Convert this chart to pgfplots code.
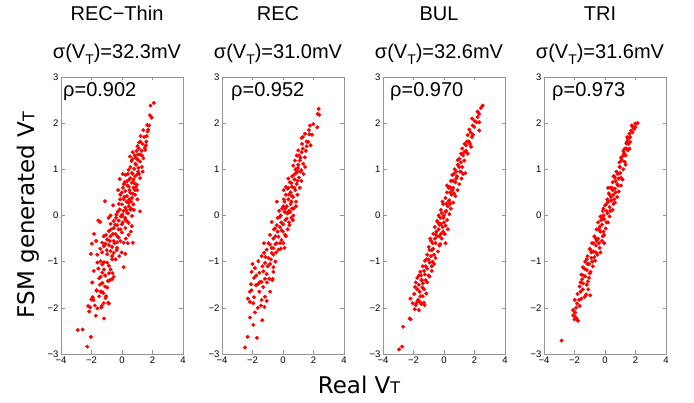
\documentclass[border=0pt]{standalone}
\usepackage{fontspec}
\setmainfont{Liberation Sans}
\newfontfamily\dejavu{DejaVu Sans}
\usepackage{pgfplots}
\pgfplotsset{compat=1.18}
\definecolor{framegray}{RGB}{150,150,150}
\pgfplotsset{
  panel/.style={
    scale only axis, width=122pt, height=277pt, anchor=south west,
    xmin=-4, xmax=4, ymin=-3, ymax=3,
    xtick={-4,-2,0,2,4}, xticklabels={−4,−2,0,2,4},
    ytick={-3,-2,-1,0,1,2,3}, yticklabels={−3,−2,−1,0,1,2,3},
    tick align=inside, major tick length=3.5pt,
    axis line style={framegray, line width=0.6pt},
    every tick/.style={framegray, line width=0.6pt},
    tick label style={font=\fontsize{9.5}{9.5}\selectfont, text=black},
    xticklabel style={yshift=1pt},
    yticklabel style={xshift=1pt},
    clip=false,
  },
  pts/.style={only marks, mark=*, mark size=1.8pt, color=red, mark options={fill=red, draw=red}},
}
\newcommand{\bigf}{\fontsize{20}{20}\selectfont}
\newcommand{\sub}{\raisebox{-0.3em}{\fontsize{14}{14}\selectfont T}}
\begin{document}
\begin{tikzpicture}
\useasboundingbox (0,0) rectangle (694pt,403pt);
% ---------------- REC-Thin
\begin{axis}[panel, at={(61pt,49pt)}]
\addplot[pts] coordinates {
(2.09,2.44)(1.87,2.38)(1.83,2.17)(1.94,2.12)(1.66,1.96)(1.78,1.95)(1.72,1.86)(1.68,1.82)
(1.12,1.58)(1.35,1.55)(1.57,1.52)(1.5,1.47)(0.71,1.37)(1.29,1.40)(1.18,1.32)(1.4,1.24)(1.03,1.21)(1.18,1.17)(0.92,1.10)(0.43,0.99)(0.8,1.01)(1.08,1.03)(0.65,0.92)(0.97,0.88)(0.86,0.85)(0.24,0.88)(0.54,0.81)(0.75,0.78)(1.18,0.81)(-0.15,0.79)(0.32,0.74)(0.65,0.71)(0.97,0.67)(0.43,0.63)(0.75,0.6)(0.06,0.6)(0.22,0.53)(0.54,0.49)(0.86,0.45)(-0.11,0.45)(0.32,0.42)(0.65,0.38)(0.11,0.35)(1.01,0.35)(-1.12,0.31)(0.43,0.27)(0.75,0.24)(0,0.24)(0.22,0.17)(0.54,0.13)(-0.15,0.13)(1.18,0.09)(0.32,0.06)(-0.37,0.02)(0,-0.01)(0.65,-0.01)(-0.75,0)(0.22,-0.09)(-0.22,-0.11)(-0.54,-0.12)(-1.55,-0.11)(-1.44,-0.14)(0.43,-0.16)(0,-0.19)(-0.32,-0.21)(-0.75,-0.18)(0.65,-0.23)(0.22,-0.27)(-0.54,-0.27)(-0.22,-0.3)(-0.86,-0.34)(0,-0.37)(-0.43,-0.4)(0.43,-0.42)(-1.83,-0.4)(-0.75,-0.45)(-0.22,-0.48)(-0.97,-0.52)(-0.54,-0.55)(-1.7,-0.55)(-1.98,-0.61)(-1.29,-0.59)(-1.08,-0.61)(0.11,-0.59)(0.71,-0.59)(-0.86,-0.64)(-0.65,-0.68)(-1.18,-0.66)(-0.32,-0.7)(-2.04,-0.83)(-0.75,-0.77)(-0.54,-0.81)(0.22,-0.83)(-0.97,-0.84)(-0.65,-0.88)(-1.61,-1.02)(-1.4,-0.99)(-1.18,-1.01)(-1.29,-1.06)(-0.97,-1.02)(-0.86,-1.09)(-0.75,-1.17)(0.11,-1.12)(-1.18,-1.17)(-1.29,-1.24)(-1.4,-1.33)(-1.5,-1.36)(-0.54,-1.33)(-0.65,-1.38)(-1.29,-1.47)(-0.97,-1.56)(-1.66,-1.63)(-1.4,-1.65)(-1.23,-1.68)(-1.08,-1.79)(-1.94,-1.79)(-1.87,-1.83)(-0.86,-1.91)(-2.22,-1.96)(-2.09,-1.99)(-2.15,-2.08)(-1.61,-2.01)(-1.35,-1.99)(-1.72,-2.17)(-1.18,-2.23)(-2.9,-2.48)(-2.58,-2.47)(-2.04,-2.63)(-2.28,-2.84)
(-1.33,-1.96)(-0.9,-1.89)(-2.0,-1.82)(-1.92,-1.77)(-1.66,-1.62)(-1.05,-1.75)(-1.33,-1.65)(-1.11,-1.54)(-1.29,-1.46)(-0.78,-1.40)
(0.1,0.1)(0.3,0.3)(0.5,0.55)(0.7,0.9)(0.9,1.25)(1.1,1.45)(1.3,1.3)(0.8,0.7)(0.6,0.3)(0.4,0.05)(0.2,-0.05)(-0.1,-0.3)(-0.3,-0.45)(-0.5,-0.6)(-0.1,-0.55)(0.05,-0.15)(-0.4,-0.05)(0.15,0.4)(0.35,0.65)(0.55,1.05)(0.95,1.4)(1.2,1.6)(1.45,1.7)(1.6,1.6)(1.05,0.95)(0.45,0.2)(-0.6,-0.4)(-0.8,-0.55)(-0.35,-0.75)(-0.2,0.25)(0.0,0.5)(0.6,0.15)(0.85,0.55)(1.3,1.05)(0.25,-0.5)(-0.65,-0.95)(-0.45,-0.2)(-1.0,-0.75)(-1.3,-0.8)(-1.1,-1.3)(-0.85,-1.25)(-1.55,-1.15)(-1.45,-1.5)
(0.12,0.68)(0.38,0.9)(0.62,1.18)(0.83,1.3)(1.02,1.5)(1.22,1.72)(1.4,1.85)(0.48,0.35)(0.28,0.12)(-0.08,-0.02)(-0.28,0.08)(0.18,0.72)(0.72,0.47)(0.92,0.62)(1.12,0.9)(0.58,-0.35)(0.38,-0.6)(-0.02,-0.8)(-0.42,-0.95)(-0.62,-1.25)(-0.92,-1.42)(-1.2,-1.9)(-1.5,-1.75)(-1.78,-1.95)(-0.18,-0.88)(0.02,0.02)(0.48,0.78)(0.88,1.12)(1.05,1.32)(-0.58,0.22)(-0.88,-0.05)(0.32,-0.12)(-0.12,0.35)(0.68,1.22)(1.52,1.42)(1.62,1.72)(-0.32,-0.58)(-0.72,-0.3)(-1.05,-0.42)(-1.42,-0.72)(-1.62,-0.85)(-1.85,-1.2)(-1.95,-1.45)(-1.2,-0.45)(0.78,0.12)(1.0,0.55)(-0.25,0.55)(0.05,0.9)(0.52,1.28)(1.35,0.95)
};
\node[anchor=base, font=\bigf] at ([xshift=-5pt,yshift=56.3pt]rel axis cs:0.5,1) {REC−Thin};
\node[anchor=base, font=\bigf] at ([xshift=-5pt,yshift=18.7pt]rel axis cs:0.5,1) {σ(V\sub)=32.3mV};
\node[anchor=base west, font=\bigf, inner sep=0pt] at ([xshift=2pt,yshift=-19.7pt]rel axis cs:0,1) {ρ=0.902};
\end{axis}
% ---------------- REC
\begin{axis}[panel, at={(222pt,49pt)}]
\addplot[pts] coordinates {
(2.34,2.31)(2.27,2.2)(2.38,2.18)(1.99,1.98)(1.77,1.95)(2.25,1.91)(1.44,1.77)(1.72,1.76)(1.22,1.68)(1.66,1.59)(1.81,1.52)(1.0,1.41)(1.22,1.37)(1.44,1.26)(0.78,1.19)(1.1,1.19)(1.33,1.12)(0.67,1.08)(0.99,1.03)
(1.2,0.98)(0.85,0.92)(1.35,0.9)(0.6,0.85)(1.05,0.82)(0.75,0.78)(1.2,0.75)(0.45,0.72)(0.9,0.68)(0.6,0.62)(1.1,0.6)(0.3,0.58)(0.8,0.55)(0.5,0.5)(0.95,0.45)(0.2,0.45)(0.65,0.4)(0.35,0.35)(0.85,0.3)(0.1,0.3)(0.5,0.25)(0.25,0.2)(0.7,0.15)(-0.05,0.15)(0.4,0.1)(0.1,0.08)(0.46,0.07)(0.68,0.0)(0.24,-0.07)(-0.2,-0.03)(-0.74,-0.14)(-0.41,-0.21)(0.02,-0.19)(0.42,-0.21)(-0.52,-0.28)(-0.09,-0.32)(-0.85,-0.42)(-0.3,-0.46)(0.13,-0.42)(-0.63,-0.5)(-0.09,-0.53)(-0.41,-0.6)(-0.85,-0.63)(0.02,-0.6)(-0.63,-0.71)(-1.07,-0.74)(-1.24,-0.81)(-0.3,-0.74)(-0.74,-0.81)(-1.4,-0.88)(-0.96,-0.92)(-0.63,-0.85)(-1.62,-0.99)(-1.18,-1.03)(-1.84,-1.14)(-2.06,-1.22)(-1.29,-1.21)(-0.63,-1.12)(-0.63,-1.22)(-1.07,-1.27)(-1.55,-1.24)(-0.9,-1.37)(-0.68,-1.37)(-1.18,-1.37)(-1.51,-1.44)(-1.77,-1.51)(-1.62,-1.48)(-1.4,-1.44)(-2.1,-1.49)(-2.17,-1.65)(-2.06,-1.62)(-0.85,-1.65)(-1.9,-1.77)(-1.18,-1.76)(-1.4,-1.83)(-1.07,-1.85)(-2.17,-1.87)(-1.95,-1.9)(-1.22,-1.98)(-2.17,-2.21)(-1.95,-2.37)(-1.36,-2.27)(-2.32,-2.63)(-1.71,-2.65)(-2.49,-2.86)
(0.3,0.05)(0.55,0.3)(0.15,-0.1)(-0.2,-0.25)(-0.15,0.0)(0.0,-0.35)(-0.5,-0.45)(-0.2,-0.6)(0.3,-0.3)(0.15,0.15)(0.75,0.6)(0.95,0.75)(0.4,0.45)(1.0,1.1)(1.15,1.25)(1.3,1.45)(1.55,1.6)(0.55,-0.05)(-0.35,-0.05)(0.05,0.35)(0.6,0.15)(-0.45,-0.8)(-0.8,-0.95)(-1.0,-1.1)(-1.35,-1.1)(-0.5,-1.0)(0.9,1.3)(1.5,1.4)(0.35,0.8)
(1.7,1.85)(1.55,1.5)(1.25,1.55)(1.05,1.3)(0.82,1.0)(0.55,0.7)(0.35,0.6)(0.18,0.62)(0.72,0.88)(1.15,0.95)(0.85,0.2)(0.6,0.42)(0.25,0.05)(0.02,0.2)(-0.12,-0.15)(-0.35,-0.35)(-0.6,-0.3)(-0.25,0.1)(0.4,-0.15)(0.2,-0.45)(-0.15,-0.72)(-0.5,-0.62)(-0.75,-0.7)(-0.95,-0.6)(-1.15,-0.9)(-0.85,-1.05)(-1.05,-1.45)(-1.3,-1.55)(-1.55,-1.65)(-1.75,-1.3)(-1.9,-1.35)(-1.45,-1.95)(-1.65,-2.0)(-1.85,-2.1)(-2.3,-1.8)(-0.4,0.3)(0.05,0.55)(0.95,0.95)(1.45,1.05)(1.9,1.75)(-0.7,-1.4)(-1.25,-0.6)(0.65,-0.1)(0.1,-0.7)(-2.0,-1.05)(1.3,1.7)
};
\node[anchor=base, font=\bigf] at ([xshift=-5pt,yshift=56.3pt]rel axis cs:0.5,1) {REC};
\node[anchor=base, font=\bigf] at ([xshift=-5pt,yshift=18.7pt]rel axis cs:0.5,1) {σ(V\sub)=31.0mV};
\node[anchor=base west, font=\bigf, inner sep=0pt] at ([xshift=9pt,yshift=-19.7pt]rel axis cs:0,1) {ρ=0.952};
\end{axis}
% ---------------- BUL
\begin{axis}[panel, at={(383pt,49pt)}]
\addplot[pts] coordinates {
(2.53,2.38)(2.42,2.33)(2.31,2.2)(2.2,2.13)(2.14,2.02)(2.31,2.02)(1.88,1.95)(1.98,1.92)(1.66,1.86)(2.31,1.84)(1.55,1.74)(1.83,1.7)(1.66,1.59)(1.44,1.52)(1.77,1.49)(1.33,1.37)(1.12,1.34)(1.55,1.34)(1.01,1.23)(1.33,1.19)
(0.9,1.1)(1.2,1.05)(0.7,1.0)(1.05,0.95)(1.4,0.92)(0.55,0.88)(0.85,0.85)(1.15,0.8)(0.45,0.75)(0.75,0.72)(1.0,0.68)(0.35,0.62)(0.6,0.6)(0.9,0.55)(0.2,0.5)(0.5,0.45)(0.75,0.42)(0.1,0.38)(0.35,0.33)(0.6,0.28)(-0.05,0.25)(0.25,0.2)(0.45,0.15)(-0.2,0.12)(0.1,0.08)(0.35,0.03)(-0.35,0.0)(-0.05,-0.05)(0.2,-0.1)(-0.45,-0.12)(-0.2,-0.18)(0.1,-0.22)(-0.6,-0.25)(-0.35,-0.3)(-0.05,-0.35)(-0.7,-0.4)(-0.45,-0.45)(-0.15,-0.5)(-0.85,-0.55)(-0.55,-0.6)(-0.25,-0.62)(0.1,-0.6)(-1.0,-0.68)(-0.7,-0.72)(-0.4,-0.78)(-1.1,-0.85)(-0.85,-0.88)(-0.55,-0.92)(-1.25,-0.98)(-0.95,-1.02)(-0.65,-1.05)(-1.4,-1.1)(-1.1,-1.15)(-0.8,-1.2)(-1.55,-1.22)(-1.25,-1.28)(-0.95,-1.32)(-1.75,-1.35)(-1.45,-1.4)(-1.1,-1.45)(-1.65,-1.5)(-1.38,-1.47)(-1.48,-1.40)(-1.42,-1.56)(-1.16,-1.69)(-1.55,-1.75)(-1.7,-1.83)(-1.85,-1.94)(-1.77,-1.88)(-1.59,-1.87)(-1.48,-1.92)(-1.33,-1.89)(-1.27,-1.94)(-1.92,-2.03)(-2.25,-2.23)(-2.18,-2.25)(-2.68,-2.41)(-2.94,-2.9)(-2.74,-2.84)
(0.0,0.0)(0.3,0.3)(0.55,0.55)(0.8,0.8)(0.15,0.25)(-0.3,-0.2)(-0.6,-0.5)(-0.8,-0.75)(-1.0,-0.95)(-1.2,-1.1)(-0.1,-0.25)(0.4,0.5)(0.65,0.9)(1.1,1.15)(1.25,1.3)(1.45,1.4)(1.6,1.6)(-1.6,-1.65)(-1.95,-1.7)(-1.3,-1.6)(-0.5,-0.35)(0.2,0.65)(-0.75,-1.0)(-1.0,-1.3)(-1.9,-1.55)(-0.3,-0.65)(0.05,-0.4)
(2.0,2.05)(1.75,1.8)(1.9,1.75)(1.5,1.6)(1.35,1.55)(1.2,1.45)(1.7,1.55)(1.0,1.05)(0.8,0.95)(1.25,0.9)(0.45,0.6)(0.65,0.48)(0.15,0.1)(0.4,0.25)(-0.15,0.05)(-0.25,-0.05)(0.25,-0.3)(-0.4,-0.15)(-0.55,-0.4)(-0.3,-0.45)(-0.75,-0.6)(-0.95,-0.75)(-0.65,-0.85)(-1.15,-0.95)(-1.3,-1.2)(-1.5,-1.3)(-1.2,-1.4)(-1.65,-1.3)(-1.85,-1.45)(-1.75,-1.6)(-1.4,-1.75)(-2.05,-1.9)(-1.65,-2.05)(-2.2,-1.8)(-0.9,-0.5)(0.6,0.75)(0.9,1.2)(1.1,0.95)(0.0,-0.15)(-0.8,-1.1)(-0.1,0.3)(1.85,2.1)(2.2,2.25)(0.3,0.6)(-0.2,-0.4)
};
\node[anchor=base, font=\bigf] at ([xshift=-5pt,yshift=56.3pt]rel axis cs:0.5,1) {BUL};
\node[anchor=base, font=\bigf] at ([xshift=-5pt,yshift=18.7pt]rel axis cs:0.5,1) {σ(V\sub)=32.6mV};
\node[anchor=base west, font=\bigf, inner sep=0pt] at ([xshift=7pt,yshift=-19.7pt]rel axis cs:0,1) {ρ=0.970};
\end{axis}
% ---------------- TRI
\begin{axis}[panel, at={(544pt,49pt)}]
\addplot[pts] coordinates {
(2.14,2.0)(1.99,1.99)(1.82,1.92)(1.71,1.84)(1.92,1.88)(1.6,1.77)(1.5,1.66)(1.64,1.59)(1.4,1.56)(1.3,1.45)(1.5,1.41)(1.2,1.3)(1.09,1.19)(1.3,1.16)(0.98,1.05)
(1.2,1.0)(0.75,0.95)(1.0,0.92)(1.35,1.1)(0.6,0.85)(0.9,0.8)(1.15,0.78)(0.5,0.72)(0.8,0.68)(1.05,0.65)(0.35,0.6)(0.65,0.58)(0.9,0.52)(0.25,0.48)(0.55,0.45)(0.8,0.4)(0.15,0.35)(0.4,0.32)(0.65,0.28)(0.0,0.22)(0.3,0.18)(0.5,0.12)(-0.15,0.1)(0.15,0.05)(0.3,-0.02)(-0.3,-0.02)(-0.05,-0.08)(0.2,-0.15)(-0.45,-0.15)(-0.2,-0.2)(0.05,-0.28)(-0.55,-0.3)(-0.3,-0.35)(-0.05,-0.42)(-0.7,-0.45)(-0.45,-0.5)(-0.2,-0.55)(-0.85,-0.6)(-0.6,-0.65)(-0.35,-0.7)(-1.0,-0.72)(-0.75,-0.78)(-0.5,-0.85)(-1.15,-0.88)(-0.9,-0.92)(-0.65,-0.98)(-1.3,-1.0)(-1.05,-1.05)(-0.8,-1.1)(-1.45,-1.12)(-1.2,-1.18)(-0.95,-1.22)(-1.55,-1.28)(-1.3,-1.32)(-1.05,-1.35)(-1.12,-1.43)(-1.44,-1.47)(-1.66,-1.54)(-1.23,-1.71)(-0.97,-1.73)(-1.33,-1.76)(-1.55,-1.8)(-1.7,-1.83)(-1.98,-1.83)(-1.83,-1.91)(-1.66,-1.96)(-2.09,-2.05)(-2.09,-2.16)(-1.98,-2.19)(-1.87,-2.23)(-1.77,-2.28)(-2.85,-2.71)
(0.1,0.1)(0.4,0.4)(0.7,0.75)(0.95,1.05)(1.1,1.2)(-0.1,0.0)(-0.35,-0.25)(-0.6,-0.5)(-0.9,-0.8)(-1.15,-1.05)(1.25,1.35)(1.4,1.45)(1.55,1.55)(0.2,0.3)(0.45,0.6)(-0.1,-0.35)(-0.4,-0.6)(-0.7,-0.9)(-1.4,-1.3)(-1.6,-1.45)(0.55,0.25)(0.85,0.65)(-0.25,-0.1)(1.45,1.7)(1.75,1.95)
(1.8,1.8)(2.0,1.92)(1.65,1.7)(1.45,1.6)(1.35,1.3)(1.2,1.4)(1.05,1.25)(0.85,0.9)(0.65,0.82)(1.05,0.82)(0.5,0.55)(0.3,0.45)(0.7,0.5)(0.1,0.25)(0.35,0.1)(-0.1,0.15)(-0.2,-0.05)(0.1,-0.15)(-0.4,-0.3)(-0.15,-0.45)(-0.55,-0.55)(-0.75,-0.6)(-0.3,-0.8)(-0.95,-0.75)(-0.85,-1.0)(-1.2,-0.95)(-1.0,-1.25)(-1.35,-1.15)(-1.5,-1.38)(-1.2,-1.5)(-1.45,-1.6)(-1.8,-1.7)(-1.6,-1.65)(-1.9,-2.0)(-2.0,-2.25)(-1.95,-2.1)(0.6,0.35)(-0.6,-0.8)(0.95,1.15)(-1.1,-1.6)(0.2,0.6)(0.55,0.85)(-0.05,-0.6)(1.6,1.45)(1.85,1.9)
};
\node[anchor=base, font=\bigf] at ([xshift=-5pt,yshift=56.3pt]rel axis cs:0.5,1) {TRI};
\node[anchor=base, font=\bigf] at ([xshift=-5pt,yshift=18.7pt]rel axis cs:0.5,1) {σ(V\sub)=31.6mV};
\node[anchor=base west, font=\bigf, inner sep=0pt] at ([xshift=8pt,yshift=-19.7pt]rel axis cs:0,1) {ρ=0.973};
\end{axis}
% axis labels
\node[rotate=90, font=\dejavu\fontsize{23}{23}\selectfont] at (28pt,188pt) {FSM generated V{\fontsize{16}{16}\selectfont T}};
\node[font=\dejavu\fontsize{23}{23}\selectfont] at (359pt,18.5pt) {Real V{\fontsize{16}{16}\selectfont T}};
\end{tikzpicture}
\end{document}
